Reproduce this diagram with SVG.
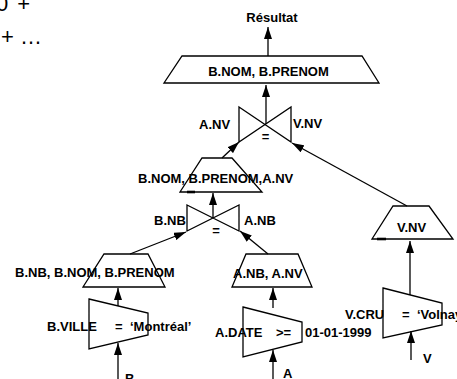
<svg xmlns="http://www.w3.org/2000/svg" width="457" height="379" viewBox="0 0 457 379">
<defs>
<style>
.t{font-family:"Liberation Sans",Arial,sans-serif;font-weight:bold;font-size:13px;fill:#000}
.big{font-family:"Liberation Sans",Arial,sans-serif;font-size:22px;fill:#000}
.s{fill:#fff;stroke:#000;stroke-width:1.3}
.c line{stroke:#000;stroke-width:1.3;marker-end:url(#ah)}
.mk{stroke:#000;stroke-width:2.6}
</style>
<marker id="ah" markerUnits="userSpaceOnUse" markerWidth="12" markerHeight="8" refX="12" refY="4" orient="auto">
<path d="M0,0 L12,4 L0,8 z" fill="#000"/>
</marker>
</defs>
<rect width="457" height="379" fill="#fff"/>
<text class="big" x="-4" y="11" word-spacing="3">0 +</text>
<text class="big" x="1" y="44">+ …</text>

<g id="connectors" class="c">
<line x1="268" y1="56" x2="268" y2="27"/>
<line x1="266" y1="124" x2="266" y2="85"/>
<line x1="222" y1="158" x2="239" y2="142"/>
<line x1="407" y1="206" x2="292" y2="143"/>
<line x1="213" y1="218" x2="213" y2="193"/>
<line x1="130" y1="254" x2="186" y2="232"/>
<line x1="268" y1="254" x2="240" y2="231"/>
<line x1="118" y1="306" x2="118" y2="288"/>
<line x1="273" y1="308" x2="273" y2="288"/>
<line x1="410" y1="295" x2="410" y2="241"/>
<line x1="118" y1="379" x2="118" y2="343"/>
<line x1="273" y1="379" x2="273" y2="350"/>
<line x1="411" y1="360" x2="411" y2="331"/>
</g>

<g id="result"><text class="t" x="272" y="22" text-anchor="middle">Résultat</text></g>

<g id="proj-top">
<polygon class="s" points="182,56 362,56 379,83 164,83"/>
<text class="t" x="268.5" y="76" text-anchor="middle">B.NOM, B.PRENOM</text>
</g>

<g id="join-top">
<path class="s" fill="none" d="M239,107 L291,142 L291,107 L239,142 Z" style="fill:none"/>
<text class="t" x="199" y="129">A.NV</text>
<text class="t" x="293" y="128">V.NV</text>
<text class="t" x="265.5" y="141" text-anchor="middle">=</text>
</g>

<g id="proj-mid">
<polygon class="s" points="202,158 232,158 262,192 180,192" style="fill:none"/>
<line class="mk" x1="187" y1="192" x2="195" y2="192"/>
<text class="t" x="138" y="183">B.NOM, B.PRENOM,A.NV</text>
</g>

<g id="join-bottom">
<path class="s" d="M187,205 L239,231 L239,205 L187,231 Z" style="fill:none"/>
<text class="t" x="154" y="225">B.NB</text>
<text class="t" x="244" y="225">A.NB</text>
<text class="t" x="216" y="235" text-anchor="middle">=</text>
</g>

<g id="proj-v">
<polygon class="s" points="393,206 429,206 453,239 372,239" style="fill:none"/>
<line class="mk" x1="377" y1="239" x2="386" y2="239"/>
<text class="t" x="397" y="232">V.NV</text>
</g>

<g id="proj-b">
<polygon class="s" points="104,254 148,254 165,287 83,287" style="fill:none"/>
<text class="t" x="15" y="277">B.NB, B.NOM, B.PRENOM</text>
</g>

<g id="proj-a">
<polygon class="s" points="246,254 298,254 312,287 232,287" style="fill:none"/>
<text class="t" x="233" y="278">A.NB, A.NV</text>
</g>

<g id="sel-b">
<polygon class="s" points="89,299 148,313 148,335 89,349" style="fill:none"/>
<text class="t" x="47" y="331">B.VILLE</text>
<text class="t" x="115" y="331">=</text>
<text class="t" x="130" y="331">‘Montréal’</text>
</g>

<g id="sel-a">
<polygon class="s" points="243,307 302,322 302,342 243,357" style="fill:none"/>
<text class="t" x="215" y="337">A.DATE</text>
<text class="t" x="276" y="337">&gt;=</text>
<text class="t" x="305" y="337">01-01-1999</text>
</g>

<g id="sel-v">
<polygon class="s" points="383,288 442,303 442,325 383,338" style="fill:none"/>
<text class="t" x="345" y="319">V.CRU</text>
<text class="t" x="402" y="319">=</text>
<text class="t" x="417" y="319">‘Volnay’</text>
</g>

<g id="rel-b"><text class="t" x="125" y="383">B</text></g>
<g id="rel-a"><text class="t" x="283" y="378">A</text></g>
<g id="rel-v"><text class="t" x="423" y="363">V</text></g>
</svg>
